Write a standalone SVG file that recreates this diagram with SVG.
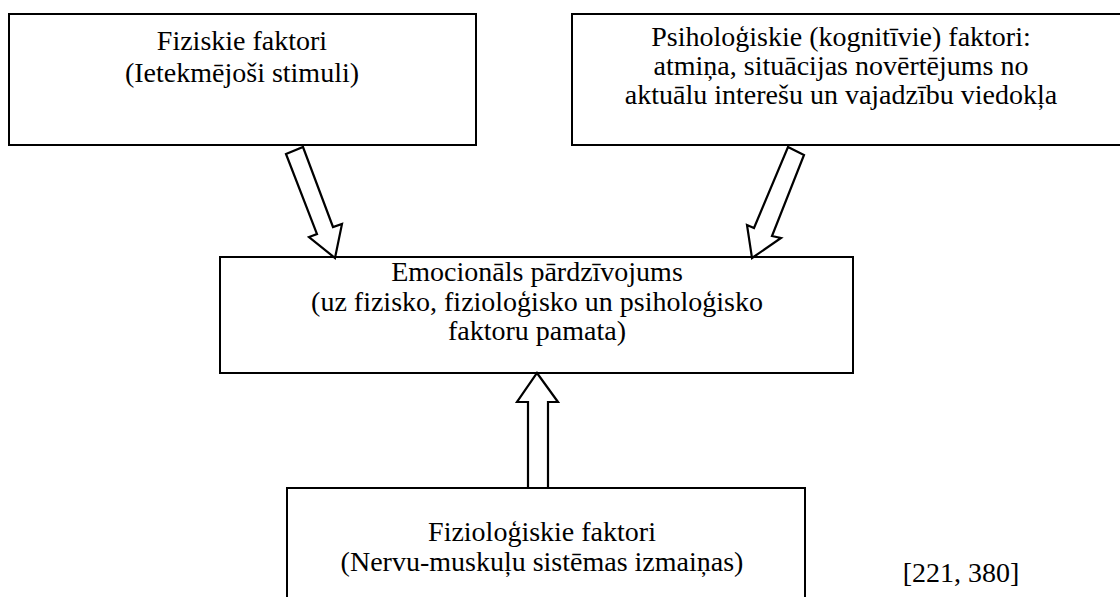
<svg xmlns="http://www.w3.org/2000/svg" width="1120" height="597" viewBox="0 0 1120 597">
<style>
.box{fill:#fff;stroke:#000;stroke-width:2}
.arr{fill:#fff;stroke:#000;stroke-width:2.2;stroke-linejoin:miter}
text{font-family:"Liberation Serif","Times New Roman",serif;font-size:28px;fill:#000;text-anchor:middle}
</style>
<rect width="1120" height="597" fill="#fff"/>
<g id="node-fiziskie">
<rect class="box" x="9" y="14" width="467" height="131"/>
<text x="242" y="50">Fiziskie faktori</text>
<text x="242" y="82">(Ietekmējoši stimuli)</text>
</g>
<g id="node-psihologiskie">
<rect class="box" x="572" y="14" width="560" height="131"/>
<text x="841" y="46">Psiholoģiskie (kognitīvie) faktori:</text>
<text x="841" y="75">atmiņa, situācijas novērtējums no</text>
<text x="841" y="104">aktuālu interešu un vajadzību viedokļa</text>
</g>
<g id="node-emocionals">
<rect class="box" x="220" y="257" width="633" height="116"/>
<text x="537" y="281">Emocionāls pārdzīvojums</text>
<text x="537" y="311">(uz fizisko, fizioloģisko un psiholoģisko</text>
<text x="537" y="340">faktoru pamata)</text>
</g>
<g id="node-fiziologiskie">
<rect class="box" x="287" y="488" width="518" height="130"/>
<text x="542" y="541">Fizioloģiskie faktori</text>
<text x="542" y="571">(Nervu-muskuļu sistēmas izmaiņas)</text>
</g>
<g id="connectors">
<polygon class="arr" points="286,154 303,147 333,227 342,224 335,258 309,237 317,234"/>
<polygon class="arr" points="788,147 804,155 772,236 781,238 752,258 747,225 754,228"/>
<polygon class="arr" points="528,488 528,402 517,402 537,373 558,402 548,402 548,488"/>
</g>
<text x="961" y="582">[221, 380]</text>
</svg>
